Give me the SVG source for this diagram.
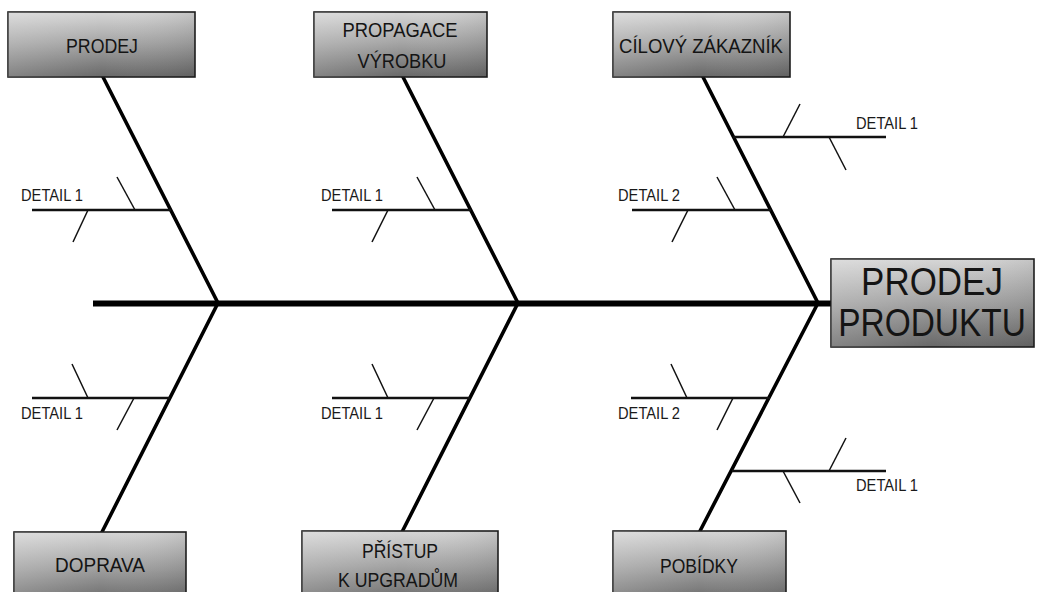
<svg xmlns="http://www.w3.org/2000/svg" width="1037" height="592" viewBox="0 0 1037 592">
  <defs>
    <linearGradient id="boxFill" x1="0" y1="0" x2="0" y2="1">
      <stop offset="0" stop-color="#d6d6d6"/>
      <stop offset="0.5" stop-color="#a2a2a2"/>
      <stop offset="1" stop-color="#686868"/>
    </linearGradient>
    <linearGradient id="boxSheen" x1="0" y1="0" x2="1" y2="0">
      <stop offset="0" stop-color="#ffffff" stop-opacity="0.18"/>
      <stop offset="0.5" stop-color="#ffffff" stop-opacity="0"/>
      <stop offset="1" stop-color="#000000" stop-opacity="0.08"/>
    </linearGradient>
    <style>
      .box { fill: url(#boxFill); stroke: #1e1e1e; stroke-width: 1.6; }
      .sheen { fill: url(#boxSheen); stroke: none; }
      .cat { font-family: "Liberation Sans", Arial, sans-serif; font-size: 21px; fill: #141414; text-anchor: middle; }
      .head { font-family: "Liberation Sans", Arial, sans-serif; font-size: 38px; fill: #141414; text-anchor: middle; }
      .lbl { font-family: "Liberation Sans", Arial, sans-serif; font-size: 16.5px; fill: #1a1a1a; }
      .spine { stroke: #000; stroke-width: 6; fill: none; }
      .bone { stroke: #000; stroke-width: 3.6; fill: none; stroke-linecap: round; }
      .sub { stroke: #111; stroke-width: 2.4; fill: none; }
      .tick { stroke: #111; stroke-width: 1.5; fill: none; }
    </style>
  </defs>

  <rect width="1037" height="592" fill="#ffffff"/>

  <!-- spine, bones and detail branches -->
  <g id="connectors">
    <line class="spine" x1="93" y1="303.5" x2="832" y2="303.5"/>

    <line class="bone" x1="103" y1="77" x2="218" y2="303"/>
    <line class="bone" x1="403" y1="77" x2="518" y2="303"/>
    <line class="bone" x1="703" y1="77" x2="818" y2="303"/>
    <line class="bone" x1="218" y1="303" x2="102" y2="532"/>
    <line class="bone" x1="518" y1="303" x2="402" y2="532"/>
    <line class="bone" x1="818" y1="303" x2="700" y2="531"/>

    <!-- upper left -->
    <line class="sub" x1="32" y1="210" x2="171" y2="210"/>
    <line class="tick" x1="135" y1="210" x2="117" y2="177"/>
    <line class="tick" x1="88" y1="210" x2="73" y2="242"/>
    <!-- upper middle -->
    <line class="sub" x1="332" y1="210" x2="471" y2="210"/>
    <line class="tick" x1="435" y1="210" x2="417" y2="177"/>
    <line class="tick" x1="388" y1="210" x2="372" y2="242"/>
    <!-- upper right -->
    <line class="sub" x1="733" y1="137" x2="886" y2="137"/>
    <line class="tick" x1="783" y1="137" x2="800" y2="104"/>
    <line class="tick" x1="829" y1="137" x2="846" y2="170"/>
    <line class="sub" x1="632" y1="210" x2="771" y2="210"/>
    <line class="tick" x1="735" y1="210" x2="717" y2="177"/>
    <line class="tick" x1="688" y1="210" x2="672" y2="242"/>
    <!-- lower left -->
    <line class="sub" x1="32" y1="398" x2="170" y2="398"/>
    <line class="tick" x1="88" y1="398" x2="72" y2="364"/>
    <line class="tick" x1="134" y1="398" x2="117" y2="430"/>
    <!-- lower middle -->
    <line class="sub" x1="332" y1="398" x2="470" y2="398"/>
    <line class="tick" x1="388" y1="398" x2="372" y2="364"/>
    <line class="tick" x1="434" y1="398" x2="417" y2="430"/>
    <!-- lower right -->
    <line class="sub" x1="631" y1="398" x2="770" y2="398"/>
    <line class="tick" x1="687" y1="398" x2="671" y2="364"/>
    <line class="tick" x1="733" y1="398" x2="717" y2="430"/>
    <line class="sub" x1="732" y1="471" x2="886" y2="471"/>
    <line class="tick" x1="829" y1="471" x2="846" y2="438"/>
    <line class="tick" x1="783" y1="471" x2="800" y2="503"/>
  </g>

  <!-- detail labels -->
  <g id="labels">
    <text class="lbl" x="21" y="201" textLength="62" lengthAdjust="spacingAndGlyphs">DETAIL 1</text>
    <text class="lbl" x="321" y="201" textLength="62" lengthAdjust="spacingAndGlyphs">DETAIL 1</text>
    <text class="lbl" x="856" y="129" textLength="62" lengthAdjust="spacingAndGlyphs">DETAIL 1</text>
    <text class="lbl" x="618" y="201" textLength="62" lengthAdjust="spacingAndGlyphs">DETAIL 2</text>
    <text class="lbl" x="21" y="419" textLength="62" lengthAdjust="spacingAndGlyphs">DETAIL 1</text>
    <text class="lbl" x="321" y="419" textLength="62" lengthAdjust="spacingAndGlyphs">DETAIL 1</text>
    <text class="lbl" x="618" y="419" textLength="62" lengthAdjust="spacingAndGlyphs">DETAIL 2</text>
    <text class="lbl" x="856" y="491" textLength="62" lengthAdjust="spacingAndGlyphs">DETAIL 1</text>
  </g>

  <g id="node-prodej">
    <rect class="box" x="8" y="12" width="187" height="65"/>
    <rect class="sheen" x="8" y="12" width="187" height="65"/>
    <text class="cat" x="102" y="53" textLength="72" lengthAdjust="spacingAndGlyphs">PRODEJ</text>
  </g>

  <g id="node-propagace">
    <rect class="box" x="314" y="12" width="173" height="65"/>
    <rect class="sheen" x="314" y="12" width="173" height="65"/>
    <text class="cat" x="400" y="37" textLength="115" lengthAdjust="spacingAndGlyphs">PROPAGACE</text>
    <text class="cat" x="402" y="68" textLength="89" lengthAdjust="spacingAndGlyphs">VÝROBKU</text>
  </g>

  <g id="node-cilovy">
    <rect class="box" x="613" y="12" width="177" height="65"/>
    <rect class="sheen" x="613" y="12" width="177" height="65"/>
    <text class="cat" x="701" y="53" textLength="164" lengthAdjust="spacingAndGlyphs">CÍLOVÝ ZÁKAZNÍK</text>
  </g>

  <g id="node-doprava">
    <rect class="box" x="14" y="532" width="172" height="70"/>
    <rect class="sheen" x="14" y="532" width="172" height="70"/>
    <text class="cat" x="100" y="572" textLength="90" lengthAdjust="spacingAndGlyphs">DOPRAVA</text>
  </g>

  <g id="node-pristup">
    <rect class="box" x="302" y="531" width="196" height="71"/>
    <rect class="sheen" x="302" y="531" width="196" height="71"/>
    <text class="cat" x="400" y="558" textLength="76" lengthAdjust="spacingAndGlyphs">PŘÍSTUP</text>
    <text class="cat" x="398" y="587" textLength="120" lengthAdjust="spacingAndGlyphs">K UPGRADŮM</text>
  </g>

  <g id="node-pobidky">
    <rect class="box" x="613" y="531" width="173" height="71"/>
    <rect class="sheen" x="613" y="531" width="173" height="71"/>
    <text class="cat" x="699" y="573" textLength="78" lengthAdjust="spacingAndGlyphs">POBÍDKY</text>
  </g>

  <g id="node-prodej-produktu">
    <rect class="box" x="831" y="259" width="203" height="88"/>
    <rect class="sheen" x="831" y="259" width="203" height="88"/>
    <text class="head" transform="translate(932 295) scale(0.92 1)">PRODEJ</text>
    <text class="head" transform="translate(932 336) scale(0.88 1)">PRODUKTU</text>
  </g>
</svg>
